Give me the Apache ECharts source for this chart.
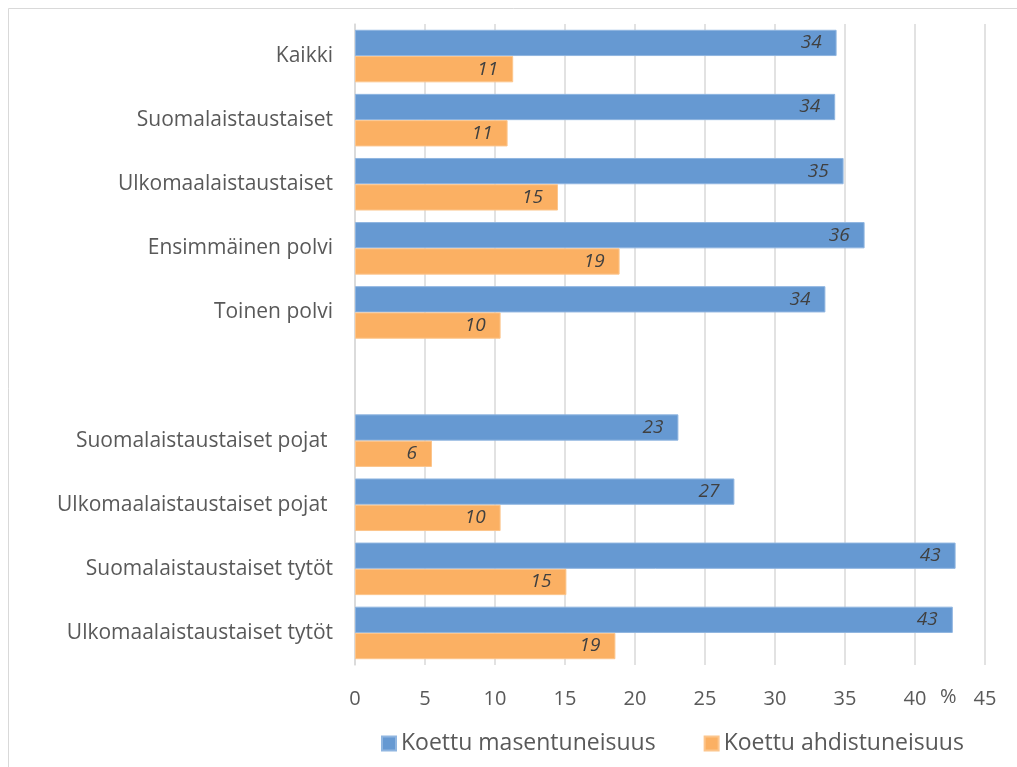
<!DOCTYPE html>
<html>
<head>
<meta charset="utf-8">
<script src="https://cdn.jsdelivr.net/npm/echarts@6/dist/echarts.min.js"></script>
<style>
html,body{margin:0;padding:0;background:#fff;}
#chart{width:1017px;height:767px;}
</style>
</head>
<body>
<div id="chart"></div>
<script>
const categories = [
  'Kaikki',
  'Suomalaistaustaiset',
  'Ulkomaalaistaustaiset',
  'Ensimmäinen polvi',
  'Toinen polvi',
  '',
  'Suomalaistaustaiset pojat ',
  'Ulkomaalaistaustaiset pojat ',
  'Suomalaistaustaiset tytöt',
  'Ulkomaalaistaustaiset tytöt'
];
const masentuneisuus = [34.4, 34.3, 34.9, 36.4, 33.6, null, 23.1, 27.1, 42.9, 42.7];
const ahdistuneisuus = [11.3, 10.9, 14.5, 18.9, 10.4, null, 5.5, 10.4, 15.1, 18.6];
const seriesNames = ['Koettu masentuneisuus', 'Koettu ahdistuneisuus'];
const xTicks = { min: 0, max: 45, interval: 5 };
const unitLabel = '%';

const FONT = '"Open Sans", "Liberation Sans", sans-serif';
const chart = echarts.init(document.getElementById('chart'), null, { renderer: 'canvas' });

const labelCfg = {
  show: true,
  position: 'insideRight',
  distance: 15,
  fontStyle: 'italic',
  fontFamily: FONT,
  fontSize: 19,
  color: '#404040',
  formatter: p => Math.round(p.value)
};

chart.setOption({
  animation: false,
  backgroundColor: '#fff',
  graphic: [
    { type: 'rect', shape: { x: 8.5, y: 8.5, width: 1100, height: 900 }, style: { fill: 'none', stroke: '#d9d9d9', lineWidth: 1 } },
    { type: 'text', x: 940, y: 687, style: { text: unitLabel, font: '20px ' + FONT, fill: '#595959' } }
  ],
  grid: { left: 355, right: 32, top: 24, bottom: 102, containLabel: false },
  legend: {
    top: 727,
    left: 376,
    itemGap: 48,
    itemWidth: 14,
    itemHeight: 14,
    icon: 'rect',
    textStyle: { fontFamily: FONT, fontSize: 23, color: '#595959' },
    data: seriesNames
  },
  xAxis: {
    type: 'value',
    min: xTicks.min, max: xTicks.max, interval: xTicks.interval,
    axisLine: { show: false },
    axisTick: { show: false },
    splitLine: { show: true, lineStyle: { color: '#d9d9d9', width: 1.5 } },
    axisLabel: { fontFamily: FONT, fontSize: 20, color: '#595959', margin: 24 }
  },
  yAxis: {
    type: 'category',
    inverse: true,
    data: categories,
    axisLine: { show: true, lineStyle: { color: '#d9d9d9', width: 1.5 } },
    axisTick: { show: false },
    axisLabel: { fontFamily: FONT, fontSize: 21, color: '#595959', margin: 22 }
  },
  series: [
    {
      name: seriesNames[0], type: 'bar', data: masentuneisuus,
      barGap: '0%', barCategoryGap: '18%',
      itemStyle: { color: '#6699d2', borderColor: '#8fb5e0', borderWidth: 1 },
      label: labelCfg
    },
    {
      name: seriesNames[1], type: 'bar', data: ahdistuneisuus,
      barGap: '0%', barCategoryGap: '18%',
      itemStyle: { color: '#fbb063', borderColor: '#fcc58c', borderWidth: 1 },
      label: labelCfg
    }
  ]
});
</script>
</body>
</html>
